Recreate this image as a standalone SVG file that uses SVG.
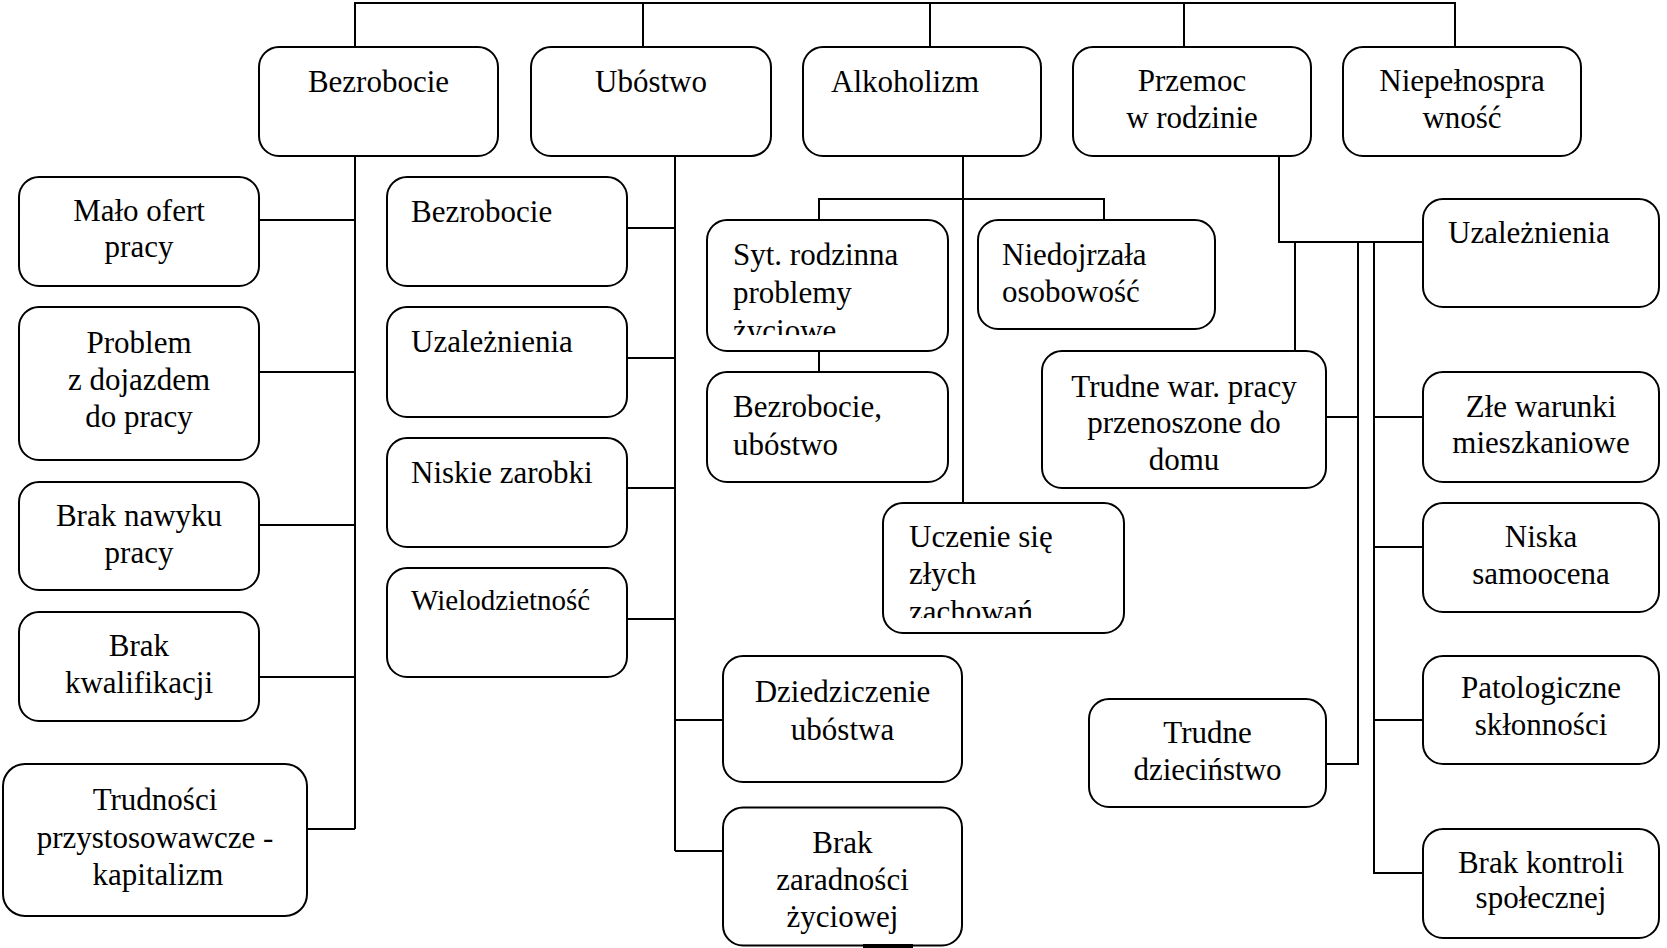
<svg xmlns="http://www.w3.org/2000/svg" width="1667" height="948" viewBox="0 0 1667 948">
<style>
.b{fill:#fff;stroke:#000;stroke-width:2}
.t{font-family:"Liberation Serif","Times New Roman",serif;font-size:31px;fill:#000}
.c{text-anchor:middle}
.w{font-size:29px}
#connectors line,#connectors polyline{stroke:#000;stroke-width:2;fill:none}
</style>
<defs>
<clipPath id="clipSyt"><rect x="707" y="220" width="241" height="115"/></clipPath>
<clipPath id="clipUcz"><rect x="883" y="503" width="241" height="115"/></clipPath>
</defs>
<rect width="1667" height="948" fill="#fff"/>
<g id="connectors">
<polyline points="355,47 355,3 1455,3 1455,47"/>
<line x1="643" y1="3" x2="643" y2="47"/>
<line x1="930" y1="3" x2="930" y2="47"/>
<line x1="1184" y1="3" x2="1184" y2="47"/>
<line x1="355" y1="156" x2="355" y2="829"/>
<line x1="259" y1="220" x2="355" y2="220"/>
<line x1="259" y1="372" x2="355" y2="372"/>
<line x1="259" y1="525" x2="355" y2="525"/>
<line x1="259" y1="677" x2="355" y2="677"/>
<line x1="307" y1="829" x2="355" y2="829"/>
<line x1="675" y1="156" x2="675" y2="851"/>
<line x1="627" y1="228" x2="675" y2="228"/>
<line x1="627" y1="358" x2="675" y2="358"/>
<line x1="627" y1="488" x2="675" y2="488"/>
<line x1="627" y1="619" x2="675" y2="619"/>
<line x1="675" y1="720" x2="723" y2="720"/>
<line x1="675" y1="851" x2="723" y2="851"/>
<line x1="963" y1="156" x2="963" y2="503"/>
<polyline points="819,220 819,199 1104,199 1104,220"/>
<line x1="819" y1="351" x2="819" y2="372"/>
<polyline points="1279,156 1279,242 1423,242"/>
<line x1="1295" y1="242" x2="1295" y2="351"/>
<polyline points="1358,242 1358,764 1326,764"/>
<polyline points="1374,242 1374,873 1423,873"/>
<line x1="1326" y1="417" x2="1358" y2="417"/>
<line x1="1374" y1="417" x2="1423" y2="417"/>
<line x1="1374" y1="547" x2="1423" y2="547"/>
<line x1="1374" y1="720" x2="1423" y2="720"/>
</g>
<g id="n-bezrobocie"><rect class="b" x="259" y="47" width="239" height="109" rx="20"/><text class="t c" x="378.5" y="92">Bezrobocie</text></g>
<g id="n-ubostwo"><rect class="b" x="531" y="47" width="240" height="109" rx="20"/><text class="t c" x="651" y="92">Ubóstwo</text></g>
<g id="n-alkoholizm"><rect class="b" x="803" y="47" width="238" height="109" rx="20"/><text class="t" x="831" y="92">Alkoholizm</text></g>
<g id="n-przemoc"><rect class="b" x="1073" y="47" width="238" height="109" rx="20"/><text class="t c" x="1192" y="91">Przemoc</text><text class="t c" x="1192" y="128">w rodzinie</text></g>
<g id="n-niepelnosprawnosc"><rect class="b" x="1343" y="47" width="238" height="109" rx="20"/><text class="t c" x="1462" y="91">Niepełnospra</text><text class="t c" x="1462" y="128">wność</text></g>

<g id="n-malo-ofert"><rect class="b" x="19" y="177" width="240" height="109" rx="20"/><text class="t c" x="139" y="221">Mało ofert</text><text class="t c" x="139" y="257">pracy</text></g>
<g id="n-problem"><rect class="b" x="19" y="307" width="240" height="153" rx="20"/><text class="t c" x="139" y="353">Problem</text><text class="t c" x="139" y="390">z dojazdem</text><text class="t c" x="139" y="427">do pracy</text></g>
<g id="n-brak-nawyku"><rect class="b" x="19" y="482" width="240" height="108" rx="20"/><text class="t c" x="139" y="526">Brak nawyku</text><text class="t c" x="139" y="563">pracy</text></g>
<g id="n-brak-kwalifikacji"><rect class="b" x="19" y="612" width="240" height="109" rx="20"/><text class="t c" x="139" y="656">Brak</text><text class="t c" x="139" y="693">kwalifikacji</text></g>
<g id="n-trudnosci"><rect class="b" x="3" y="764" width="304" height="152" rx="22"/><text class="t c" x="155" y="810">Trudności</text><text class="t c" x="155" y="848">przystosowawcze -</text><text class="t c" x="158" y="885">kapitalizm</text></g>

<g id="n-u-bezrobocie"><rect class="b" x="387" y="177" width="240" height="109" rx="20"/><text class="t" x="411" y="222">Bezrobocie</text></g>
<g id="n-u-uzaleznienia"><rect class="b" x="387" y="307" width="240" height="110" rx="20"/><text class="t" x="411" y="352">Uzależnienia</text></g>
<g id="n-niskie-zarobki"><rect class="b" x="387" y="438" width="240" height="109" rx="20"/><text class="t" x="411" y="483">Niskie zarobki</text></g>
<g id="n-wielodzietnosc"><rect class="b" x="387" y="568" width="240" height="109" rx="20"/><text class="t w" x="411" y="610">Wielodzietność</text></g>
<g id="n-dziedziczenie"><rect class="b" x="723" y="656" width="239" height="126" rx="20"/><text class="t c" x="842.5" y="702">Dziedziczenie</text><text class="t c" x="842.5" y="740">ubóstwa</text></g>
<g id="n-brak-zaradnosci"><rect class="b" x="723" y="807.5" width="239" height="138" rx="20"/><text class="t c" x="842.5" y="853">Brak</text><text class="t c" x="842.5" y="890">zaradności</text><text class="t c" x="842.5" y="927">życiowej</text><rect x="863" y="944" width="50" height="4" fill="#000"/></g>

<g id="n-syt-rodzinna"><rect class="b" x="707" y="220" width="241" height="131" rx="20"/><g clip-path="url(#clipSyt)"><text class="t" x="733" y="265">Syt. rodzinna</text><text class="t" x="733" y="303">problemy</text><text class="t" x="733" y="341">życiowe</text></g></g>
<g id="n-a-bezrobocie"><rect class="b" x="707" y="372" width="241" height="110" rx="20"/><text class="t" x="733" y="417">Bezrobocie,</text><text class="t" x="733" y="455">ubóstwo</text></g>
<g id="n-niedojrzala"><rect class="b" x="978" y="220" width="237" height="109" rx="20"/><text class="t" x="1002" y="265">Niedojrzała</text><text class="t" x="1002" y="302">osobowość</text></g>
<g id="n-uczenie"><rect class="b" x="883" y="503" width="241" height="130" rx="20"/><g clip-path="url(#clipUcz)"><text class="t" x="909" y="547">Uczenie się</text><text class="t" x="909" y="584">złych</text><text class="t" x="909" y="622">zachowań</text></g></g>

<g id="n-p-uzaleznienia"><rect class="b" x="1423" y="199" width="236" height="108" rx="20"/><text class="t" x="1448" y="243">Uzależnienia</text></g>
<g id="n-trudne-war"><rect class="b" x="1042" y="351" width="284" height="137" rx="20"/><text class="t c" x="1184" y="397">Trudne war. pracy</text><text class="t c" x="1184" y="433">przenoszone do</text><text class="t c" x="1184" y="470">domu</text></g>
<g id="n-zle-warunki"><rect class="b" x="1423" y="372" width="236" height="110" rx="20"/><text class="t c" x="1541" y="417">Złe warunki</text><text class="t c" x="1541" y="453">mieszkaniowe</text></g>
<g id="n-niska-samoocena"><rect class="b" x="1423" y="503" width="236" height="109" rx="20"/><text class="t c" x="1541" y="547">Niska</text><text class="t c" x="1541" y="584">samoocena</text></g>
<g id="n-patologiczne"><rect class="b" x="1423" y="656" width="236" height="108" rx="20"/><text class="t c" x="1541" y="698">Patologiczne</text><text class="t c" x="1541" y="735">skłonności</text></g>
<g id="n-trudne-dziecinstwo"><rect class="b" x="1089" y="699" width="237" height="108" rx="20"/><text class="t c" x="1207.5" y="743">Trudne</text><text class="t c" x="1207.5" y="780">dzieciństwo</text></g>
<g id="n-brak-kontroli"><rect class="b" x="1423" y="829" width="236" height="109" rx="20"/><text class="t c" x="1541" y="873">Brak kontroli</text><text class="t c" x="1541" y="908">społecznej</text></g>
</svg>
